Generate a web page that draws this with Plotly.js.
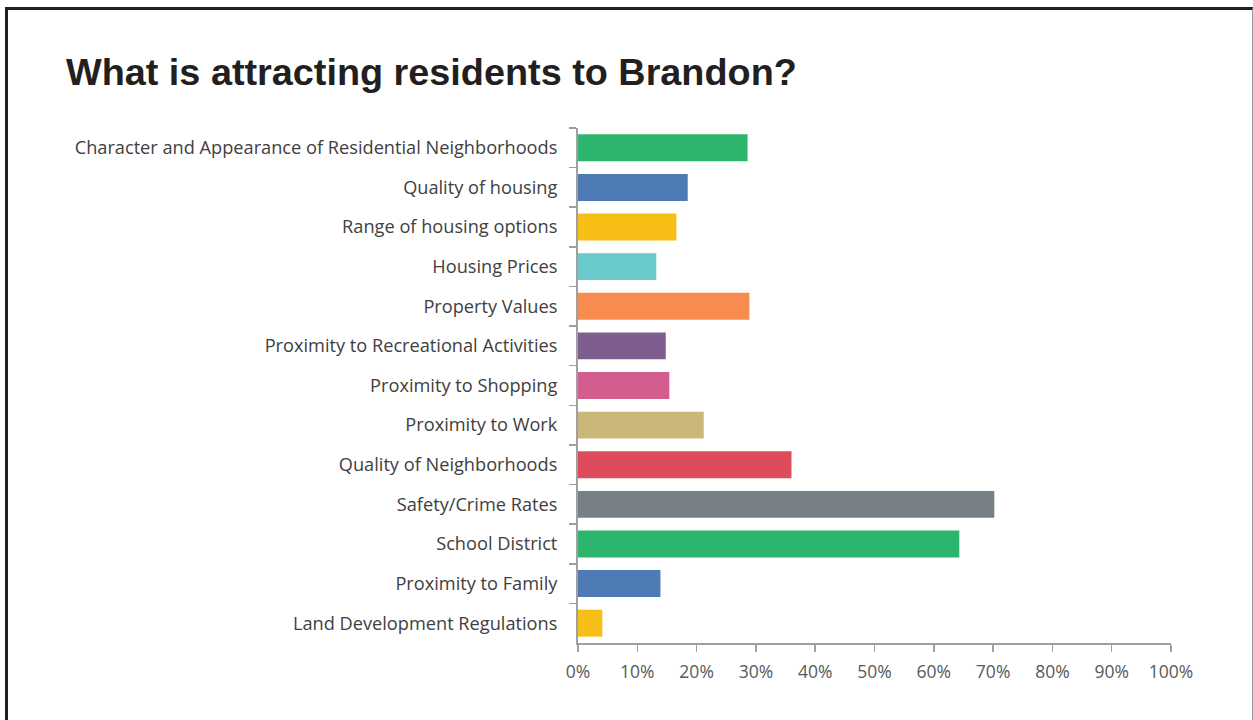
<!DOCTYPE html>
<html>
<head>
<meta charset="utf-8">
<script src="https://cdn.plot.ly/plotly-3.0.1.min.js"></script>
<style>
  html, body { margin: 0; padding: 0; background: #ffffff; width: 1253px; height: 720px; overflow: hidden; }
  #frame { position: absolute; left: 5px; top: 7px; width: 1248px; height: 760px;
           border-left: 3px solid #231f20; border-top: 3px solid #231f20; border-right: 1px solid #9a9a9a; box-sizing: border-box; }
  #chart { position: absolute; left: 0; top: 0; width: 1253px; height: 720px; }
</style>
</head>
<body>
<div id="chart"></div>
<div id="frame"></div>
<script>
const categories = [
  "Character and Appearance of Residential Neighborhoods",
  "Quality of housing",
  "Range of housing options",
  "Housing Prices",
  "Property Values",
  "Proximity to Recreational Activities",
  "Proximity to Shopping",
  "Proximity to Work",
  "Quality of Neighborhoods",
  "Safety/Crime Rates",
  "School District",
  "Proximity to Family",
  "Land Development Regulations"
];
const values = [0.286, 0.185, 0.166, 0.132, 0.289, 0.148, 0.154, 0.212, 0.360, 0.702, 0.643, 0.139, 0.041];
const barColors = ["#2db56d", "#4e7bb5", "#f7be16", "#6ac9cb", "#f78b50", "#7d5e8f",
                   "#d35d8f", "#c9b877", "#de4c5c", "#778085", "#2db56d", "#4e7bb5", "#f7be16"];
const tickVals = [0, 0.1, 0.2, 0.3, 0.4, 0.5, 0.6, 0.7, 0.8, 0.9, 1.0];
const tickText = ["0%", "10%", "20%", "30%", "40%", "50%", "60%", "70%", "80%", "90%", "100%"];

const trace = {
  type: "bar",
  orientation: "h",
  x: values,
  y: categories,
  marker: { color: barColors, line: { width: 0 } },
  width: 0.68,
  hoverinfo: "x+y"
};

const layout = {
  width: 1253,
  height: 720,
  paper_bgcolor: "#ffffff",
  plot_bgcolor: "#ffffff",
  margin: { l: 578, r: 82, t: 128, b: 77 },
  showlegend: false,
  title: {
    text: "<b>What is attracting residents to Brandon?</b>",
    font: { family: "Liberation Sans, Arial, sans-serif", size: 37.8, color: "#231f20" },
    x: 66 / 1253, xanchor: "left", xref: "container",
    y: 1 - 72 / 720, yanchor: "middle", yref: "container"
  },
  xaxis: {
    range: [0, 1],
    tickvals: tickVals,
    ticktext: tickText,
    showgrid: false,
    zeroline: false,
    showline: true,
    linecolor: "#a0a0a0",
    linewidth: 1.5,
    ticks: "outside",
    ticklen: 7,
    tickcolor: "#a0a0a0",
    tickwidth: 1.5,
    ticklabelstandoff: 5,
    tickfont: { family: "Open Sans, sans-serif", size: 17.5, color: "#595959" },
    fixedrange: true
  },
  yaxis: {
    type: "category",
    autorange: "reversed",
    showgrid: false,
    zeroline: false,
    showline: true,
    linecolor: "#a0a0a0",
    linewidth: 2,
    ticks: "outside",
    tickson: "boundaries",
    ticklen: 7,
    tickcolor: "#a0a0a0",
    tickwidth: 1.5,
    ticklabelstandoff: 15,
    tickfont: { family: "Open Sans, sans-serif", size: 18.2, color: "#404040" },
    fixedrange: true
  }
};

Plotly.newPlot("chart", [trace], layout, { displayModeBar: false, staticPlot: true });
</script>
</body>
</html>
